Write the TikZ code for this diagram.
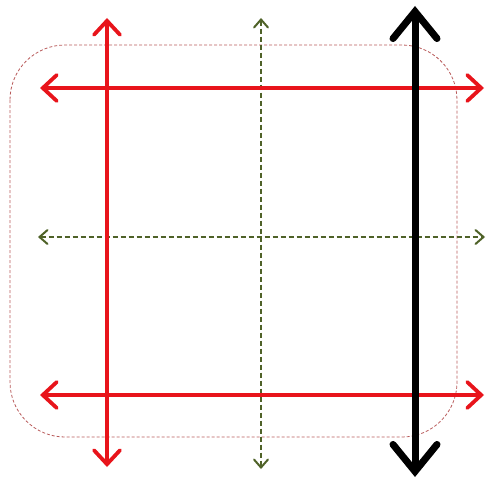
\documentclass[tikz,border=0pt]{standalone}
\usetikzlibrary{arrows.meta}
\definecolor{redline}{HTML}{E8141B}
\definecolor{olive}{HTML}{4F6228}
\definecolor{boxline}{HTML}{B85A5A}
\tikzset{
  redarrow/.style={draw=redline, line width=3.8pt, {Straight Barb[length=14pt,width=26pt,line cap=round]}-{Straight Barb[length=14pt,width=26pt,line cap=round]}},
  greenarrow/.style={draw=olive, line width=2pt, dash pattern=on 5pt off 3pt, {Straight Barb[length=8pt,width=14pt,line cap=round]}-{Straight Barb[length=8pt,width=14pt,line cap=round]}},
  blackarrow/.style={draw=black, line width=7pt, {Straight Barb[length=27pt,width=44pt,line cap=round]}-{Straight Barb[length=27pt,width=44pt,line cap=round]}},
  framebox/.style={draw=boxline, line width=0.8pt, dash pattern=on 3pt off 2pt, rounded corners=55pt}
}
\begin{document}
\begin{tikzpicture}[x=1pt,y=-1pt]
\useasboundingbox (0,0) rectangle (486,484);
\coordinate (boxA) at (10,45);
\coordinate (boxB) at (457,437);
\draw[framebox] (boxA) rectangle (boxB);
% coordinates
\coordinate (rvT) at (107,18);
\coordinate (rvB) at (107,467);
\coordinate (gvT) at (261,18);
\coordinate (gvB) at (261,469);
\coordinate (bvT) at (415,6);
\coordinate (bvB) at (415,477);
\coordinate (rh1L) at (40,88);
\coordinate (rh1R) at (484,88);
\coordinate (ghL) at (38,237);
\coordinate (ghR) at (485,237);
\coordinate (rh2L) at (40,395);
\coordinate (rh2R) at (484,395);
\draw[greenarrow] (gvT) -- (gvB);
\draw[greenarrow] (ghL) -- (ghR);
\draw[redarrow] (rvT) -- (rvB);
\draw[redarrow] (rh1L) -- (rh1R);
\draw[redarrow] (rh2L) -- (rh2R);
\draw[blackarrow] (bvT) -- (bvB);
\end{tikzpicture}
\end{document}
